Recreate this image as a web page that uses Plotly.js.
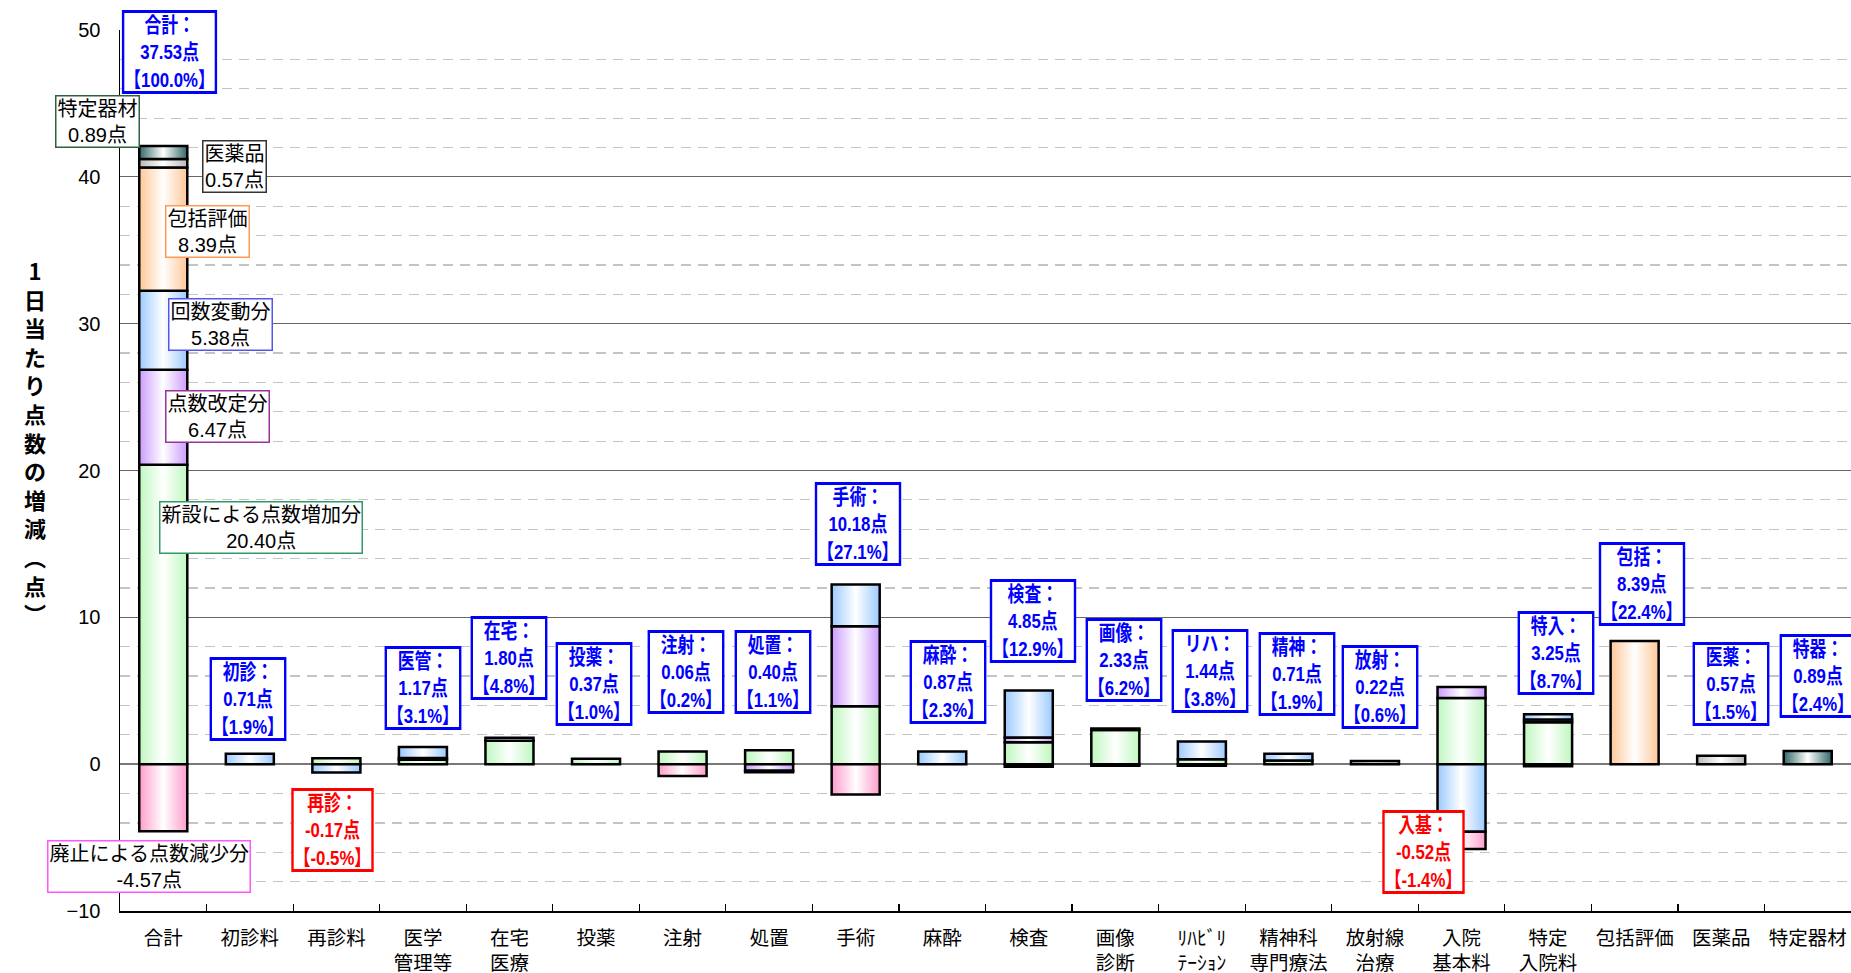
<!DOCTYPE html>
<html>
<head>
<meta charset="utf-8">
<script src="https://cdn.plot.ly/plotly-3.0.1.min.js"></script>
<style>
  html, body { margin: 0; padding: 0; background: #ffffff; }
  #chart { width: 1851px; height: 973px; }
</style>
</head>
<body>
<div id="chart"></div>
<script>
// ---- data ----
const categories = ['合計','初診料','再診料','医学<br>管理等','在宅<br>医療','投薬','注射','処置','手術','麻酔','検査','画像<br>診断','ﾘﾊﾋﾞﾘ<br>ﾃｰｼｮﾝ','精神科<br>専門療法','放射線<br>治療','入院<br>基本料','特定<br>入院料','包括評価','医薬品','特定器材'];

const seriesNames = ['新設による点数増加分','点数改定分','回数変動分','廃止による点数減少分','包括評価','医薬品','特定器材'];

const newItems   = [20.40, null, 0.40, 0.30, 1.60, 0.37, 0.86, 0.95, 3.95, null, 1.50, 2.33, 0.34, 0.25, null, 4.50, 2.85, null, null, null];
const revision   = [6.47, null, null, 0.12, null, null, null, -0.45, 5.45, null, 0.32, 0.10, null, null, null, 0.75, 0.20, null, null, null];
const frequency  = [5.38, 0.71, -0.57, 0.75, 0.20, null, null, null, 2.84, 0.87, 3.20, null, 1.20, 0.46, 0.22, -4.60, 0.35, null, null, null];
const abolished  = [-4.57, null, null, null, null, null, -0.80, -0.10, -2.07, null, -0.17, -0.10, -0.10, null, null, -1.17, -0.15, null, null, null];
const inclusive  = [8.39, null, null, null, null, null, null, null, null, null, null, null, null, null, null, null, null, 8.39, null, null];
const drugs      = [0.57, null, null, null, null, null, null, null, null, null, null, null, null, null, null, null, null, null, 0.57, null];
const materials  = [0.89, null, null, null, null, null, null, null, null, null, null, null, null, null, null, null, null, null, null, 0.89];

const shortNames = ['合計','初診','再診','医管','在宅','投薬','注射','処置','手術','麻酔','検査','画像','リハ','精神','放射','入基','特入','包括','医薬','特器'];
const totals     = [37.53, 0.71, -0.17, 1.17, 1.80, 0.37, 0.06, 0.40, 10.18, 0.87, 4.85, 2.33, 1.44, 0.71, 0.22, -0.52, 3.25, 8.39, 0.57, 0.89];
const shares     = ['100.0','1.9','-0.5','3.1','4.8','1.0','0.2','1.1','27.1','2.3','12.9','6.2','3.8','1.9','0.6','-1.4','8.7','22.4','1.5','2.4'];

const componentLabels = ['特定器材','医薬品','包括評価','回数変動分','点数改定分','新設による点数増加分','廃止による点数減少分'];
const componentValues = ['0.89','0.57','8.39','5.38','6.47','20.40','-4.57'];

const yTitleChars = ['1','日','当','た','り','点','数','の','増','減','︵','点','︶'];

// ---- styles / label placement ----
const edgeColors = ['#bff7bf','#cc9cff','#9ccaff','#ff9ccc','#ffc697','#b8b8b8','#336666'];
const totalLabelPos = [[0.07,48.5],[0.98,4.43],[1.95,-4.5],[3.0,5.18],[4.0,7.22],[4.98,5.45],[6.04,6.27],[7.04,6.27],[8.03,16.35],[9.07,5.59],[10.05,9.78],[11.1,7.08],[12.09,6.33],[13.1,6.13],[14.06,5.25],[14.56,-6.0],[16.09,7.56],[17.08,12.3],[18.11,5.45],[19.12,6.0]];
// offsets (in category widths) from the 合計 bar, and y value
const compLabelPos = [[-0.76,43.77],[0.82,40.7],[0.51,36.3],[0.66,29.97],[0.63,23.7],[1.13,16.1],[-0.17,-7.0]];
const compBorder = ['#2f6040','#333333','#ff9955','#5555ee','#993399','#339966','#ff55ff'];
const CAT_PX = 1731 / 20;
const LABEL_SQUEEZE = 0.8;

const FONT = '"Liberation Sans", Arial, "Noto Sans CJK JP", sans-serif';

const seriesValues = [newItems, revision, frequency, abolished, inclusive, drugs, materials];
const traces = seriesValues.map((vals, i) => ({
  type: 'bar',
  name: seriesNames[i],
  x: categories,
  y: vals,
  marker: { color: edgeColors[i], line: { color: '#000000', width: 2.5 } },
  hoverinfo: 'skip'
}));

const annotations = [];
totals.forEach((v, i) => {
  const col = v < 0 ? '#ff0000' : '#0000ff';
  annotations.push({
    x: totalLabelPos[i][0], y: totalLabelPos[i][1], xref: 'x', yref: 'y',
    text: '<b>' + shortNames[i] + '：<br>' + v.toFixed(2) + '点<br>【' + shares[i] + '%】</b>',
    showarrow: false, align: 'center',
    font: { family: FONT, size: 21, color: col },
    bgcolor: '#ffffff', bordercolor: col, borderwidth: 3, borderpad: 0
  });
});
componentLabels.forEach((name, i) => {
  annotations.push({
    x: 0, xshift: compLabelPos[i][0] * CAT_PX, y: compLabelPos[i][1], xref: 'x', yref: 'y',
    text: name + '<br>' + componentValues[i] + '点',
    showarrow: false, align: 'center',
    font: { family: FONT, size: 20, color: '#000000' },
    bgcolor: '#ffffff', bordercolor: compBorder[i], borderwidth: 1.5, borderpad: 1
  });
});
annotations.push({
  x: 0, y: 0.533, xref: 'paper', yref: 'paper', xshift: -85,
  text: '<b>' + yTitleChars.join('<br>') + '</b>',
  showarrow: false, align: 'center', xanchor: 'center', yanchor: 'middle',
  font: { family: '"Noto Sans CJK JP", sans-serif', size: 22, color: '#000000' }
});

const layout = {
  width: 1851, height: 973,
  margin: { l: 120, r: 0, t: 30, b: 62, pad: 0 },
  paper_bgcolor: '#ffffff', plot_bgcolor: '#ffffff',
  barmode: 'relative', bargap: 0.445,
  showlegend: false,
  font: { family: FONT, size: 20, color: '#000000' },
  xaxis: {
    type: 'category',
    range: [-0.5, 19.5], autorange: false,
    showgrid: false, zeroline: false,
    showline: true, linecolor: '#000000', linewidth: 1.5,
    ticks: 'inside', tickson: 'boundaries', ticklen: 7, tickcolor: '#000000', tickwidth: 1.2,
    tickangle: 0,
    tickfont: { family: FONT, size: 19.5, color: '#000000' },
    ticklabelstandoff: 9
  },
  yaxis: {
    range: [-10, 50], autorange: false, dtick: 10, tick0: 0,
    showgrid: true, gridcolor: '#666666', gridwidth: 1.3,
    zeroline: true, zerolinecolor: '#777777', zerolinewidth: 2,
    showline: true, linecolor: '#000000', linewidth: 1.5,
    ticks: '', ticklabelstandoff: 14,
    tickfont: { family: FONT, size: 20, color: '#000000' },
    minor: { dtick: 2, showgrid: true, gridcolor: '#c4c4c4', gridwidth: 1.2, griddash: '10px,7px' }
  },
  annotations: annotations
};

Plotly.newPlot('chart', traces, layout, { staticPlot: true, displayModeBar: false }).then(gd => {
  const ns = 'http://www.w3.org/2000/svg';
  const svg = gd.querySelector('.main-svg');
  let defs = svg.querySelector('defs');
  if (!defs) { defs = document.createElementNS(ns, 'defs'); svg.insertBefore(defs, svg.firstChild); }
  edgeColors.forEach((c, i) => {
    const lg = document.createElementNS(ns, 'linearGradient');
    lg.setAttribute('id', 'bargrad' + i);
    lg.setAttribute('x1', '0'); lg.setAttribute('y1', '0');
    lg.setAttribute('x2', '1'); lg.setAttribute('y2', '0');
    [[0, c], [0.5, '#ffffff'], [1, c]].forEach(s => {
      const st = document.createElementNS(ns, 'stop');
      st.setAttribute('offset', s[0]);
      st.setAttribute('stop-color', s[1]);
      lg.appendChild(st);
    });
    defs.appendChild(lg);
  });
  gd.querySelectorAll('.barlayer .trace').forEach((tr, i) => {
    tr.querySelectorAll('path').forEach(p => { p.style.fill = 'url(#bargrad' + i + ')'; });
  });
  // narrow the bold total labels horizontally (the original uses a condensed face)
  gd.querySelectorAll('g.annotation').forEach(g => {
    const idx = +g.getAttribute('data-index');
    if (!(idx >= 0 && idx < totals.length)) return;
    const wrap = document.createElementNS(ns, 'g');
    while (g.firstChild) wrap.appendChild(g.firstChild);
    g.appendChild(wrap);
    const bb = wrap.getBBox();
    const cx = bb.x + bb.width / 2;
    wrap.setAttribute('transform', 'translate(' + cx + ',0) scale(' + LABEL_SQUEEZE + ',1) translate(' + (-cx) + ',0)');
  });
});
</script>
</body>
</html>
